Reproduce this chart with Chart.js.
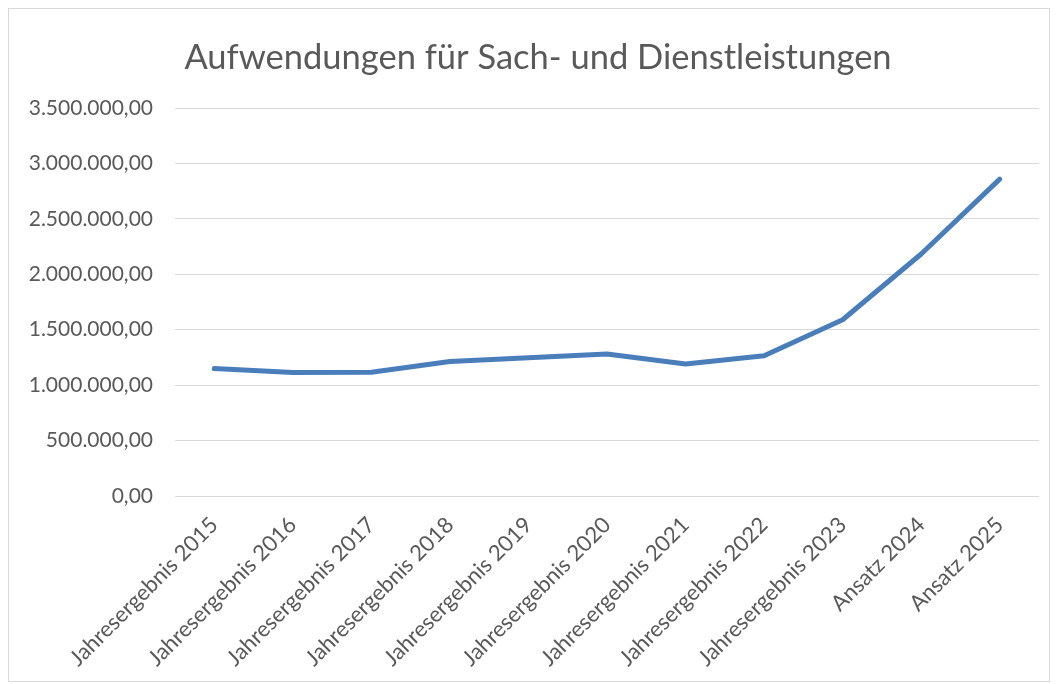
<!DOCTYPE html>
<html>
<head>
<meta charset="utf-8">
<script src="https://cdn.jsdelivr.net/npm/chart.js@4"></script>
<style>
  body { margin: 0; background: #fff; }
  #box { position: absolute; left: 8px; top: 8px; width: 1040px; height: 672px; border: 1px solid #d9d9d9; }
</style>
</head>
<body>
<div id="box"><canvas id="myChart" width="1040" height="672"></canvas></div>
<script>
// Kategorien und Werte
const labels = [
  "Jahresergebnis 2015", "Jahresergebnis 2016", "Jahresergebnis 2017",
  "Jahresergebnis 2018", "Jahresergebnis 2019", "Jahresergebnis 2020",
  "Jahresergebnis 2021", "Jahresergebnis 2022", "Jahresergebnis 2023",
  "Ansatz 2024", "Ansatz 2025"
];
const werte = [1150000, 1114000, 1117000, 1213000, 1247000, 1280000,
               1190000, 1265000, 1590000, 2183000, 2858000];
const titel = "Aufwendungen für Sach- und Dienstleistungen";

function formatDE(v) {
  let s = Math.round(v).toString().replace(/\B(?=(\d{3})+(?!\d))/g, ".");
  return s + ",00";
}

// Titel selbst zeichnen, damit er wie in Excel leicht rechts der Mitte sitzt
const titelPlugin = {
  id: "titel",
  afterDraw(chart) {
    const c = chart.ctx;
    c.save();
    c.fillStyle = "#595959";
    c.font = "34.5px Lato";
    c.textAlign = "center";
    c.textBaseline = "alphabetic";
    c.fillText(titel, 529, 60);
    c.restore();
  }
};

window.addEventListener("load", function () {
  const ctx = document.getElementById("myChart");
  new Chart(ctx, {
    type: "line",
    data: {
      labels: labels,
      datasets: [{
        label: titel,
        data: werte,
        borderColor: "#4a7ebb",
        borderWidth: 5,
        borderCapStyle: "round",
        borderJoinStyle: "round",
        pointRadius: 0,
        fill: false,
        tension: 0
      }]
    },
    plugins: [titelPlugin],
    options: {
      responsive: false,
      animation: false,
      layout: { padding: { left: 0, right: 10, top: 99, bottom: 0 } },
      plugins: {
        legend: { display: false },
        tooltip: { enabled: false },
        title: { display: false }
      },
      scales: {
        x: {
          offset: true,
          grid: { display: false, drawTicks: false },
          border: { display: false },
          afterFit: function (s) { s.height = 185; },
          ticks: {
            color: "#595959",
            font: { family: "Lato", size: 22 },
            minRotation: 45,
            maxRotation: 45,
            padding: 16
          }
        },
        y: {
          min: 0,
          max: 3500000,
          grid: { color: "#d9d9d9", lineWidth: 1, drawTicks: false },
          border: { display: false },
          afterFit: function (s) { s.width = 166; },
          ticks: {
            stepSize: 500000,
            color: "#595959",
            font: { family: "Lato", size: 21 },
            padding: 22,
            callback: function (v) { return formatDE(v); }
          }
        }
      }
    }
  });
});
</script>
</body>
</html>
